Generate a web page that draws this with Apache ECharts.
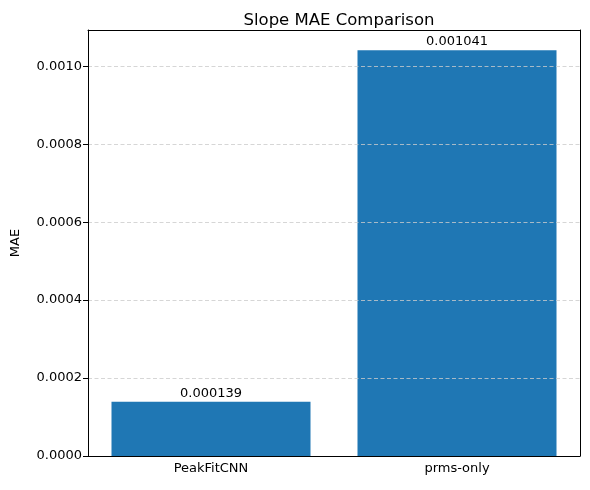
<html>
<head>
    <meta charset="utf-8">
    <title>Slope MAE Comparison</title>
    <script src="https://cdn.jsdelivr.net/npm/echarts@6/dist/echarts.min.js"></script>
</head>
<body style="margin:0">
    <div id="main" style="width: 590px;height:490px;"></div>
    <script type="text/javascript">
        var myChart = echarts.init(document.getElementById('main'));

        var categories = ['PeakFitCNN', 'prms-only'];
        var maeValues = [0.000139, 0.001041];
        var yTicks = [0, 0.0002, 0.0004, 0.0006, 0.0008, 0.0010];

        var font = 'DejaVu Sans';
        var yMax = 0.001093;

        option = {
            animation: false,
            title: {
                text: 'Slope MAE Comparison',
                left: 334, top: 7, textAlign: 'center',
                textStyle: { fontFamily: font, fontSize: 16.5, fontWeight: 'normal', color: '#000' }
            },
            grid: { left: 88, right: 10, top: 30, bottom: 34 },
            xAxis: [{
                type: 'category',
                data: categories,
                z: 6,
                axisLine: { onZero: false, lineStyle: { color: '#000' } },
                axisTick: { alignWithLabel: true, length: 5, lineStyle: { color: '#000' } },
                axisLabel: { fontFamily: font, fontSize: 13, color: '#000', margin: 6 }
            }, {
                // top frame line
                type: 'category',
                position: 'top',
                data: categories,
                z: 6,
                axisLine: { show: true, onZero: false, lineStyle: { color: '#000' } },
                axisTick: { show: false },
                axisLabel: { show: false }
            }],
            yAxis: [{
                type: 'value',
                min: 0,
                max: yMax,
                interval: 0.0002,
                z: 5,
                name: 'MAE',
                nameLocation: 'middle',
                nameGap: 66,
                nameTextStyle: { fontFamily: font, fontSize: 13, color: '#000' },
                axisLine: { show: true, onZero: false, lineStyle: { color: '#000' } },
                axisTick: { show: true, length: 5, lineStyle: { color: '#000' } },
                axisLabel: {
                    fontFamily: font, fontSize: 13, color: '#000', margin: 6,
                    showMaxLabel: false,
                    formatter: function (v) { return yTicks.indexOf(+v.toFixed(4)) >= 0 ? v.toFixed(4) : ''; }
                },
                splitLine: { show: true, lineStyle: { color: '#cccccc', type: [4, 2.5], width: 0.8 } }
            }, {
                // right frame line
                type: 'value',
                position: 'right',
                min: 0,
                max: yMax,
                z: 6,
                axisLine: { show: true, onZero: false, lineStyle: { color: '#000' } },
                axisTick: { show: false },
                axisLabel: { show: false },
                splitLine: { show: false }
            }],
            series: [{
                type: 'bar',
                data: maeValues,
                barWidth: 199,
                itemStyle: { color: '#1f77b4' },
                label: {
                    show: true,
                    position: 'top',
                    distance: 2,
                    fontFamily: font, fontSize: 13, color: '#000',
                    formatter: function (p) { return p.value.toFixed(6); }
                }
            }]
        };

        myChart.setOption(option);
    </script>
</body>
</html>
